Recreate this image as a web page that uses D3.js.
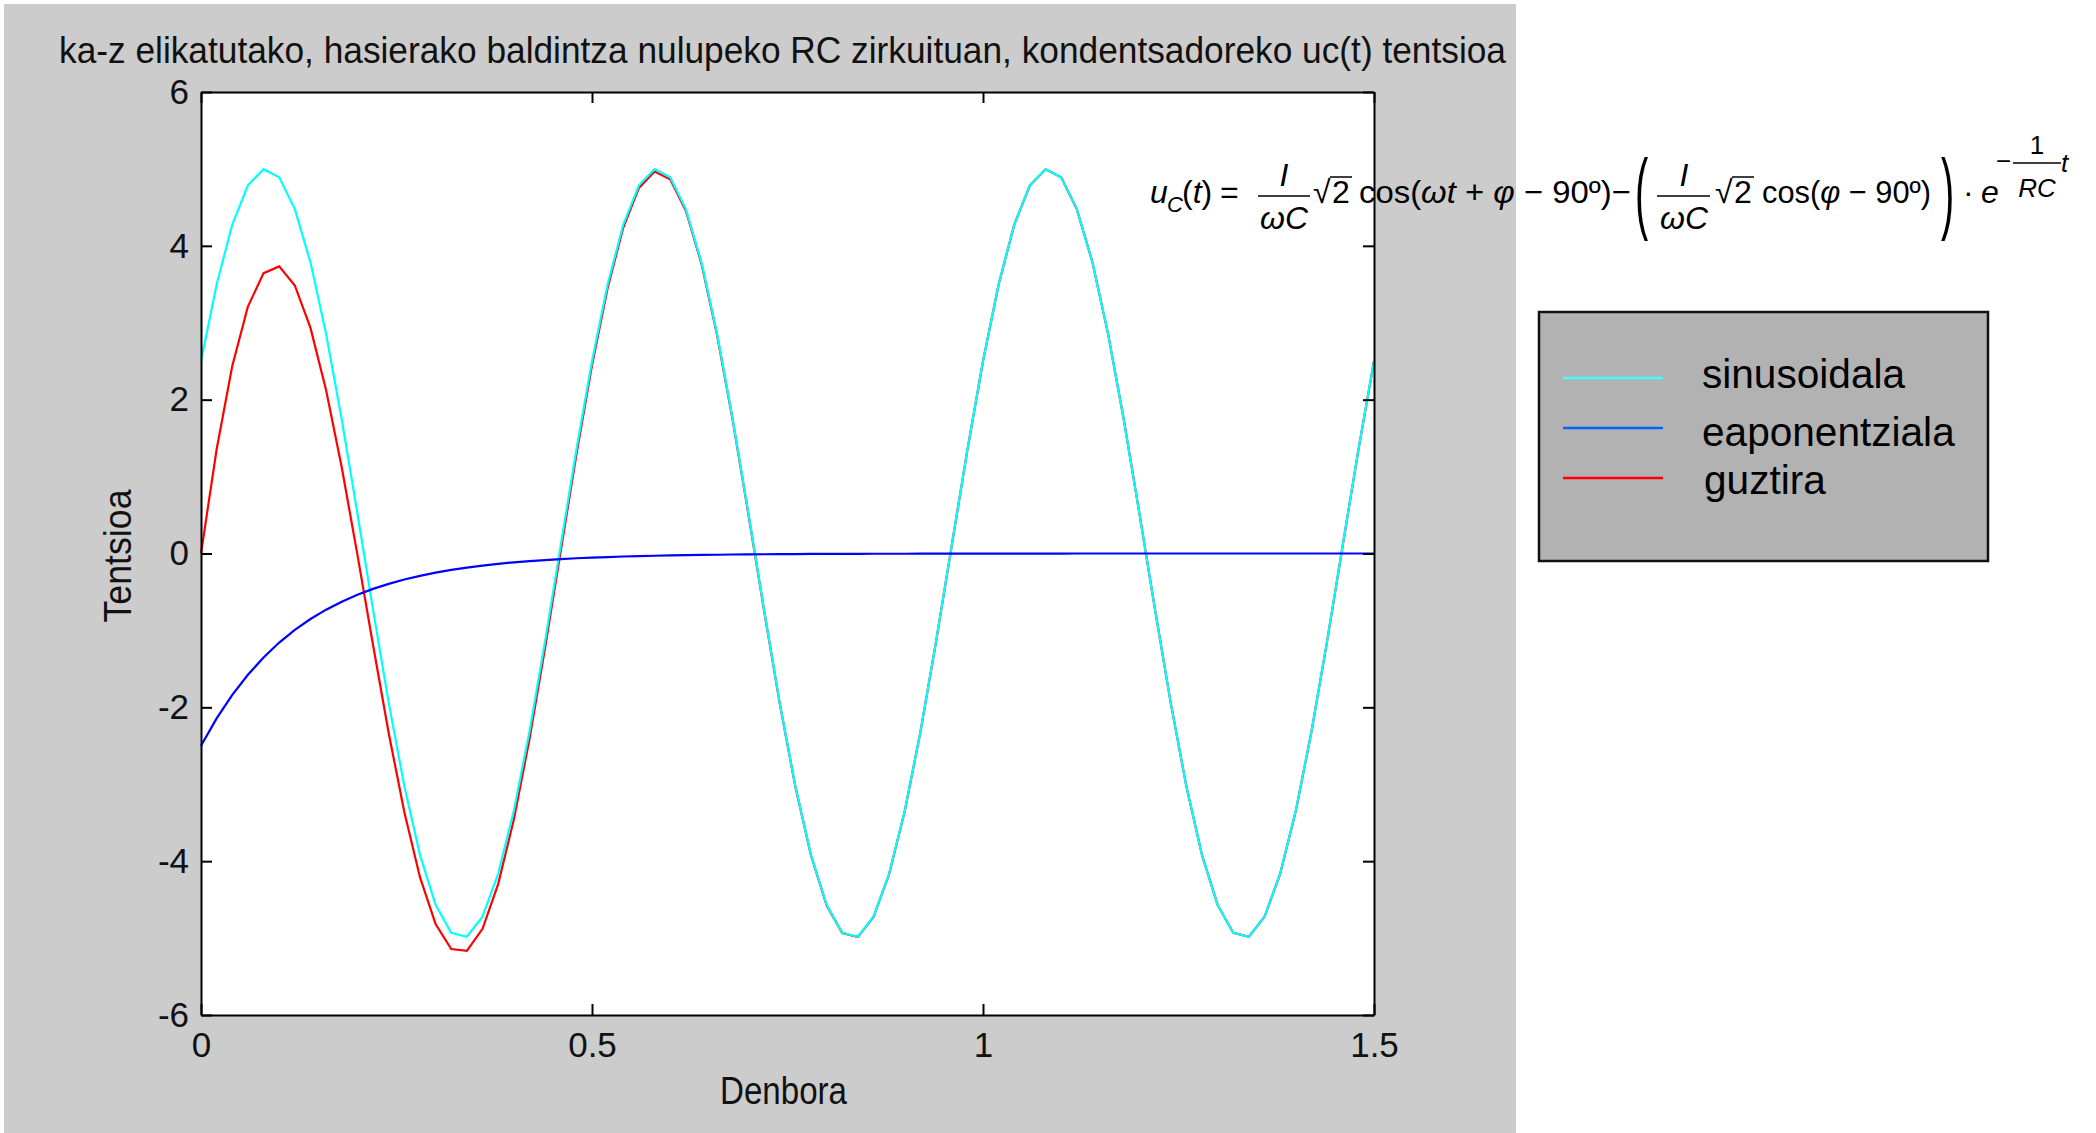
<!DOCTYPE html>
<html><head><meta charset="utf-8">
<script src="https://cdn.jsdelivr.net/npm/d3@7"></script>
<style>body{margin:0;background:#fff;} svg{display:block;}</style>
</head><body>
<script>
// ---- data ----
const time = [0,0.02,0.04,0.06,0.08,0.1,0.12,0.14,0.16,0.18,0.2,0.22,0.24,0.26,0.28,0.3,0.32,0.34,0.36,0.38,0.4,0.42,0.44,0.46,0.48,
0.5,0.52,0.54,0.56,0.58,0.6,0.62,0.64,0.66,0.68,0.7,0.72,0.74,0.76,0.78,0.8,0.82,0.84,0.86,0.88,0.9,0.92,0.94,0.96,0.98,
1,1.02,1.04,1.06,1.08,1.1,1.12,1.14,1.16,1.18,1.2,1.22,1.24,1.26,1.28,1.3,1.32,1.34,1.36,1.38,1.4,1.42,1.44,1.46,1.48,1.5];
const sinusoidala = [2.5,3.498,4.277,4.787,4.996,4.891,4.478,3.785,2.853,1.743,0.523,-0.73,-1.938,-3.023,-3.918,-4.568,-4.93,-4.982,-4.722,-4.164,-3.346,-2.317,-1.142,0.105,1.345,
2.5,3.498,4.277,4.787,4.996,4.891,4.478,3.785,2.853,1.743,0.523,-0.73,-1.938,-3.023,-3.918,-4.568,-4.93,-4.982,-4.722,-4.164,-3.346,-2.317,-1.142,0.105,1.345,
2.5,3.498,4.277,4.787,4.996,4.891,4.478,3.785,2.853,1.743,0.523,-0.73,-1.938,-3.023,-3.918,-4.568,-4.93,-4.982,-4.722,-4.164,-3.346,-2.317,-1.142,0.105,1.345,2.5];
const eaponentziala = [-2.5,-2.144,-1.838,-1.576,-1.351,-1.158,-0.993,-0.852,-0.73,-0.626,-0.537,-0.46,-0.395,-0.338,-0.29,-0.249,-0.213,-0.183,-0.157,-0.134,-0.115,-0.099,-0.085,-0.073,-0.062,
-0.053,-0.046,-0.039,-0.034,-0.029,-0.025,-0.021,-0.018,-0.016,-0.013,-0.012,-0.01,-0.008,-0.007,-0.006,-0.005,-0.005,-0.004,-0.003,-0.003,-0.003,-0.002,-0.002,-0.002,-0.001,
-0.001,-0.001,-0.001,-0.001,-0.001,-0.001,0,0,0,0,0,0,0,0,0,0,0,0,0,0,0,0,0,0,0,0];
const guztira = [0,1.355,2.439,3.211,3.645,3.733,3.485,2.933,2.123,1.117,-0.014,-1.19,-2.333,-3.361,-4.208,-4.817,-5.143,-5.165,-4.879,-4.298,-3.461,-2.416,-1.227,0.032,1.283,
2.447,3.452,4.238,4.753,4.967,4.866,4.457,3.767,2.837,1.73,0.511,-0.74,-1.946,-3.03,-3.924,-4.573,-4.935,-4.986,-4.725,-4.167,-3.349,-2.319,-1.144,0.103,1.344,
2.499,3.497,4.276,4.786,4.995,4.89,4.477,3.784,2.852,1.742,0.522,-0.731,-1.939,-3.024,-3.919,-4.569,-4.931,-4.983,-4.723,-4.165,-3.347,-2.318,-1.143,0.104,1.344,2.499];
const xTicks = [0,0.5,1,1.5];
const xTickLabels = ["0","0.5","1","1.5"];
const yTicks = [-6,-4,-2,0,2,4,6];
const yTickLabels = ["-6","-4","-2","0","2","4","6"];
const seriesNames = ["sinusoidala","eaponentziala","guztira"];
const titleText = "ka-z elikatutako, hasierako baldintza nulupeko RC zirkuituan, kondentsadoreko uc(t) tentsioa";
const xLabel = "Denbora", yLabel = "Tentsioa";

// ---- drawing ----
const W=2096,H=1133;
const font = "'Liberation Sans', Arial, Helvetica, sans-serif";
const svg = d3.select("body").append("svg").attr("width",W).attr("height",H).attr("font-family",font);
svg.append("rect").attr("x",4).attr("y",4).attr("width",1512).attr("height",H-4).attr("fill","#cccccc");
const L=201,R=1374,T=92,B=1015;
const x = d3.scaleLinear().domain([0,1.5]).range([L,R]);
const y = d3.scaleLinear().domain([-6,6]).range([B,T]);
svg.append("rect").attr("x",L).attr("y",T).attr("width",R-L).attr("height",B-T).attr("fill","#fff");

const line = d3.line().x((d,i)=>x(time[i])).y(d=>y(d));
const plotSeries = [[guztira,"#ff0000"],[sinusoidala,"#00ffff"],[eaponentziala,"#0000ff"]];
plotSeries.forEach(([arr,c])=>{
  svg.append("path").datum(arr).attr("d",line).attr("fill","none").attr("stroke",c).attr("stroke-width",2.2);
});

function styleAxis(g){
  g.select(".domain").attr("stroke","#000").attr("stroke-width",2);
  g.selectAll(".tick line").attr("stroke","#000").attr("stroke-width",2);
  g.selectAll(".tick text").attr("font-size",35).attr("fill","#111").attr("font-family",font);
}
const gB = svg.append("g").attr("transform",`translate(0,${B})`)
  .call(d3.axisBottom(x).tickValues(xTicks).tickFormat((d,i)=>xTickLabels[i]).tickSize(-11).tickSizeOuter(0).tickPadding(17));
styleAxis(gB);
const gT = svg.append("g").attr("transform",`translate(0,${T})`)
  .call(d3.axisTop(x).tickValues(xTicks).tickFormat("").tickSize(-11).tickSizeOuter(0));
styleAxis(gT);
const gL = svg.append("g").attr("transform",`translate(${L},0)`)
  .call(d3.axisLeft(y).tickValues(yTicks).tickFormat((d,i)=>yTickLabels[i]).tickSize(-11).tickSizeOuter(0).tickPadding(12));
styleAxis(gL);
const gR = svg.append("g").attr("transform",`translate(${R},0)`)
  .call(d3.axisRight(y).tickValues(yTicks).tickFormat("").tickSize(-11).tickSizeOuter(0));
styleAxis(gR);

// title & labels
svg.append("text").attr("x",59).attr("y",63).attr("font-size",37).attr("fill","#111")
  .attr("textLength",1447).attr("lengthAdjust","spacingAndGlyphs").text(titleText);
svg.append("text").attr("x",(L+R)/2-4).attr("y",1104).attr("font-size",38).attr("fill","#111")
  .attr("text-anchor","middle").attr("textLength",127).attr("lengthAdjust","spacingAndGlyphs").text(xLabel);
svg.append("text").attr("transform","translate(131,556) rotate(-90)").attr("font-size",38).attr("fill","#111")
  .attr("text-anchor","middle").attr("textLength",133).attr("lengthAdjust","spacingAndGlyphs").text(yLabel);

// legend
const legColors = ["#40ffff","#0066ff","#ff0000"];
svg.append("rect").attr("x",1539).attr("y",312).attr("width",449).attr("height",249)
  .attr("fill","#b2b2b2").attr("stroke","#111").attr("stroke-width",2.5);
const legY = [378,428,478];
const legTextY = [388,446,494];
const legTextX = [1702,1702,1704];
seriesNames.forEach((n,i)=>{
  svg.append("line").attr("x1",1563).attr("x2",1663).attr("y1",legY[i]).attr("y2",legY[i])
    .attr("stroke",legColors[i]).attr("stroke-width",2.5);
  svg.append("text").attr("x",legTextX[i]).attr("y",legTextY[i]).attr("font-size",40.6).attr("fill","#000").text(n);
});

// formula
const F=32, FS=26;
function mtext(x0,y0,parts,size,anchor,len){
  const t = svg.append("text").attr("x",x0).attr("y",y0).attr("font-size",size)
    .attr("text-anchor",anchor||"start").attr("fill","#000");
  parts.forEach(p=>t.append("tspan").attr("font-style",p[1]?"italic":"normal").text(p[0]));
  if(len) t.attr("textLength",len).attr("lengthAdjust","spacingAndGlyphs");
  return t;
}
function hl(x1,x2,yy,w){ svg.append("line").attr("x1",x1).attr("x2",x2).attr("y1",yy).attr("y2",yy).attr("stroke","#000").attr("stroke-width",w||1.6); }
const base = 203;
mtext(1150,base,[["u",1]],F);
mtext(1167,base+9,[["C",1]],22);
mtext(1182,base,[["(",0],["t",1],[")",0]],F);
mtext(1220,base,[["=",0]],F);
mtext(1284,186,[["I",1]],F,"middle"); hl(1258,1310,196); mtext(1284,229,[["ωC",1]],F,"middle");
mtext(1313,base,[["√",0]],F); mtext(1332,base,[["2",0]],F); hl(1330,1352,177,1.5);
mtext(1359,base,[["cos(",0],["ωt",1],[" + ",0],["φ",1],[" − 90º)−",0]],F,"start",272);
svg.append("text").attr("transform","translate(1635,222) scale(0.45,1.02)").attr("font-size",88).text("(");
mtext(1684,186,[["I",1]],F,"middle"); hl(1657,1710,196); mtext(1684,229,[["ωC",1]],F,"middle");
mtext(1715,base,[["√",0]],F); mtext(1734,base,[["2",0]],F); hl(1732,1754,177,1.5);
mtext(1762,base,[["cos(",0],["φ",1],[" − 90º)",0]],F,"start",169);
svg.append("text").attr("transform","translate(1941,222) scale(0.45,1.02)").attr("font-size",88).text(")");
mtext(1963,base,[["·",0]],F);
mtext(1981,base,[["e",1]],F);
mtext(1996,170,[["−",0]],FS);
mtext(2037,154,[["1",0]],FS,"middle"); hl(2013,2061,163,1.5); mtext(2037,197,[["RC",1]],FS,"middle");
mtext(2061,172,[["t",1]],FS);
</script>
</body></html>
